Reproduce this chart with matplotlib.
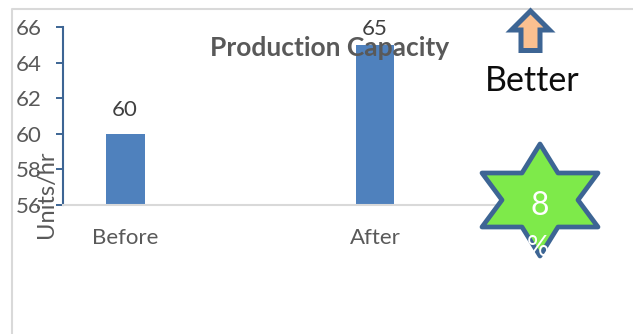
import matplotlib
matplotlib.use("Agg")
import matplotlib.pyplot as plt
from matplotlib.patches import Polygon
from matplotlib.lines import Line2D

plt.rcParams['font.family'] = ['Lato', 'DejaVu Sans']

categories = ["Before", "", "After", ""]
values = [60, None, 65, None]
bar_labels = ["60", "", "65", ""]
label_gaps = [9.5, 0, 4, 0]
y_ticks = [56, 58, 60, 62, 64, 66]

W, H = 633, 334
GREY = "#595959"
AXIS_BLUE = "#3d6594"
BAR_BLUE = "#4f81bd"
RULE = "#d9d9d9"

fig = plt.figure(figsize=(W / 100, H / 100), dpi=100, facecolor="white")

# Overlay in pixel coordinates for the frame, arrow and star callouts
ov = fig.add_axes([0, 0, 1, 1], zorder=3)
ov.set_xlim(0, W)
ov.set_ylim(H, 0)
ov.axis("off")
ov.patch.set_alpha(0)

# Plot area: four equal category slots starting at the value axis
left, right, top, bottom = 62.5, 562.5, 27.0, 204.5
ax = fig.add_axes([left / W, 1 - bottom / H, (right - left) / W, (bottom - top) / H], zorder=2)
ax.patch.set_alpha(0)
positions = list(range(len(categories)))
for pos, val, lab, gap in zip(positions, values, bar_labels, label_gaps):
    if val is None:
        continue
    ax.bar(pos, val - 56, bottom=56, width=0.312, color=BAR_BLUE, linewidth=0)
    ax.annotate(lab, (pos, val), xytext=(0, gap), textcoords="offset points",
                ha="center", va="bottom", fontsize=16, color="#404040",
                annotation_clip=False)
ax.set_xlim(-0.5, 3.5)
ax.set_ylim(56, 66)
ax.set_yticks(y_ticks)
ax.set_xticks([p for p, c in zip(positions, categories) if c])
ax.set_xticklabels([c for c in categories if c], fontsize=16, color=GREY)
ax.tick_params(axis="x", length=0, pad=17)
ax.tick_params(axis="y", length=5, width=1.4, color=AXIS_BLUE, labelsize=16,
               labelcolor=GREY, pad=10)
for side in ("top", "right"):
    ax.spines[side].set_visible(False)
ax.spines["left"].set_color(AXIS_BLUE)
ax.spines["left"].set_linewidth(1.5)
ax.spines["bottom"].set_color(RULE)
ax.spines["bottom"].set_linewidth(1.5)

# Outer chart frame: top and left edges only
ov.add_line(Line2D([12, 12, W], [H, 8.5, 8.5], color=RULE, lw=1.5, zorder=1))

ov.text(330, 48, "Production Capacity", ha="center", va="center",
        fontsize=19, fontweight="bold", color=GREY, zorder=5)
ov.text(47, 194, "Units/hr", rotation=90, ha="center", va="center",
        fontsize=17, color=GREY, zorder=5)

arrow = [(530.5, 11), (549.5, 30), (540, 30), (540, 50.5), (521, 50.5), (521, 30), (511.5, 30)]
ov.add_patch(Polygon(arrow, closed=True, facecolor="#fac090", edgecolor=AXIS_BLUE,
                     linewidth=3.6, joinstyle="miter", zorder=4))
ov.text(532, 81, "Better", ha="center", va="center", fontsize=24.5, color="#0d0d0d", zorder=5)

star = [(540, 144), (558, 173), (598, 173), (578, 200), (598, 227), (558, 227),
        (540, 256), (522, 227), (482, 227), (502, 200), (482, 173), (522, 173)]
ov.add_patch(Polygon(star, closed=True, facecolor="#7eea4a", edgecolor=AXIS_BLUE,
                     linewidth=3.4, joinstyle="round", zorder=4))
ov.text(540, 206, "8", ha="center", va="center", fontsize=23, color="white", zorder=5)
ov.text(538, 248, "%", ha="center", va="center", fontsize=20, color="white", zorder=5)

fig.savefig("out.png", dpi=100)
